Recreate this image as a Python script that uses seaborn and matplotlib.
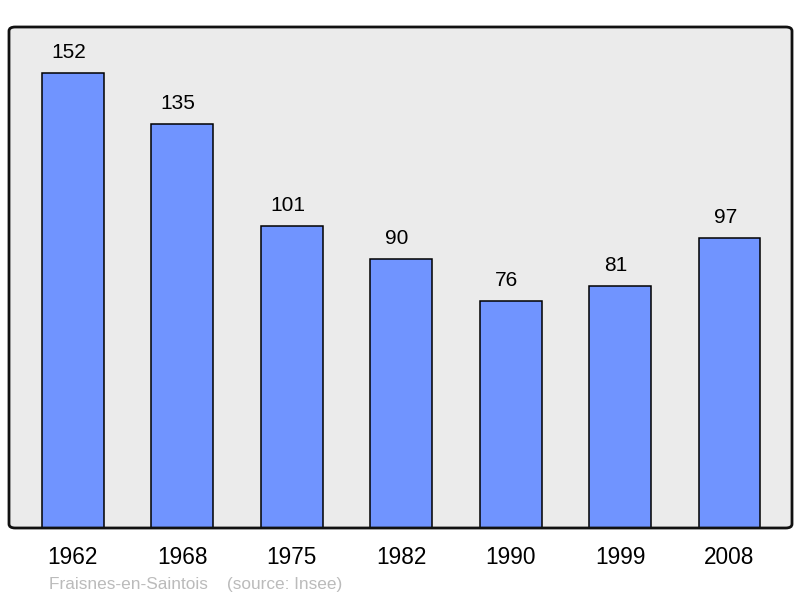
import matplotlib
matplotlib.use("Agg")
import matplotlib.pyplot as plt
import seaborn as sns
import pandas as pd
from matplotlib.patches import FancyBboxPatch

years = ["1962", "1968", "1975", "1982", "1990", "1999", "2008"]
population = [152, 135, 101, 90, 76, 81, 97]
footer = "Fraisnes-en-Saintois    (source: Insee)"

sns.set_theme(style="white")
plt.rcParams['font.family'] = ['Liberation Sans', 'DejaVu Sans']

df = pd.DataFrame({"year": years, "pop": population})

fig = plt.figure(figsize=(8.0, 5.98), dpi=100)
ax = fig.add_axes([9/800, 1 - 528/598, 783/800, 501/598])
ax.set_facecolor("#ebebeb")

sns.barplot(data=df, x="year", y="pop", color="#7094ff", saturation=1,
            width=0.566, edgecolor="black", linewidth=1.1, ax=ax)

ax.set_xlim(-0.584, 6.571)
ax.set_ylim(0, 167.4)
ax.set_xlabel("")
ax.set_ylabel("")
ax.set_yticks([])
ax.tick_params(axis="x", length=0, pad=13.3, labelsize=16.3, labelcolor="black")
for s in ax.spines.values():
    s.set_visible(False)

frame = FancyBboxPatch((0, 0), 1, 1, boxstyle="round,pad=0,rounding_size=0.008",
                       transform=ax.transAxes, fill=False, edgecolor="#111111",
                       linewidth=2, clip_on=False, zorder=5)
ax.add_patch(frame)

for i, v in enumerate(population):
    ax.annotate(str(v), (i, v), xytext=(-3, 14.5), textcoords="offset points",
                ha="center", va="center", fontsize=15, color="black")

fig.text(49/800, 1 - 584/598, footer, ha="left", va="center",
         fontsize=12.4, color="#bbbbbb")

fig.savefig("out.png", dpi=100)
